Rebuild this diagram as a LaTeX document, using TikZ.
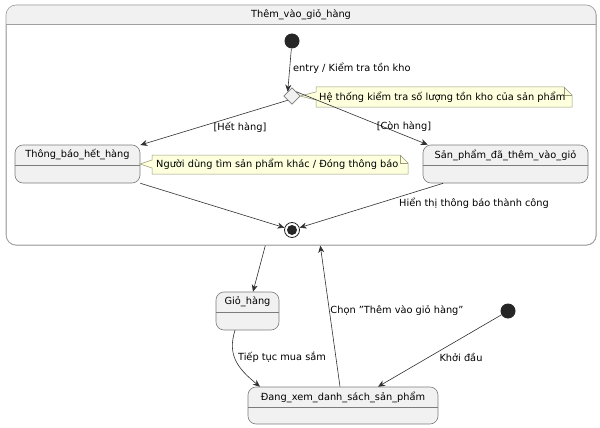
\documentclass[tikz,border=0pt]{standalone}
\usepackage{fontspec}
\setmainfont{DejaVu Sans}
\usetikzlibrary{arrows.meta,calc}
\definecolor{stfill}{HTML}{F1F1F1}
\definecolor{stborder}{HTML}{7C7C7C}
\definecolor{compborder}{HTML}{A0A0A0}
\definecolor{notefill}{HTML}{FEFFDD}
\definecolor{noteborder}{HTML}{9A9A7A}
\definecolor{edgecol}{HTML}{303030}
\begin{document}
\begin{tikzpicture}[x=1pt,y=-1pt,
  font=\fontsize{9.8}{11}\selectfont,
  stbox/.style={draw=stborder, fill=stfill, rounded corners=8pt, line width=0.6pt, inner sep=0pt},
  divline/.style={draw=stborder, line width=0.6pt},
  ttl/.style={inner sep=1pt},
  lbl/.style={inner sep=1pt},
  edge/.style={draw=edgecol, line width=0.6pt, -{Stealth[length=7pt,width=6pt,inset=2.2pt]}},
  dot/.style={circle, fill=black!85, minimum size=15pt, inner sep=0pt},
  notebox/.style={draw=noteborder, fill=notefill, line width=0.5pt, line join=miter}
]
\useasboundingbox (0,0) rectangle (600,428);

% composite state
\node[stbox, draw=compborder, fill=white, rounded corners=10pt, minimum width=590pt, minimum height=240pt, anchor=north west] (comp) at (6,5) {};
\begin{scope}
  \clip[rounded corners=10pt] (6,5) rectangle (596,245);
  \fill[stfill] (6,5) rectangle (596,24);
\end{scope}
\draw[compborder, line width=0.6pt, rounded corners=10pt] (6,5) rectangle (596,245);
\draw[compborder, line width=0.6pt] (6,24) -- (596,24);
\node[ttl] (comptitle) at (301,15) {Thêm\_vào\_giỏ\_hàng};

% initial state inside
\node[dot] (init1) at (292,41) {};
% choice diamond
\node[draw=stborder, fill=stfill, line width=0.6pt, shape=rectangle, rotate=45, minimum size=11.5pt, inner sep=0pt] (dia) at (292,96) {};

% states
\node[stbox, minimum width=125pt, minimum height=38pt] (tb) at (77.5,164) {};
\draw[divline] (tb.west |- 0,165) -- (tb.east |- 0,165);
\node[ttl] (tbtitle) at (77.5,155) {Thông\_báo\_hết\_hàng};

\node[stbox, minimum width=165pt, minimum height=38pt] (sp) at (505.5,164) {};
\draw[divline] (sp.west |- 0,165) -- (sp.east |- 0,165);
\node[ttl] (sptitle) at (505.5,155) {Sản\_phẩm\_đã\_thêm\_vào\_giỏ};

% final state
\node[circle, draw=black!85, line width=0.8pt, minimum size=15pt, inner sep=0pt] (fin) at (292,230) {};
\fill[black!85] (fin.center) circle (5);

% notes
\coordinate (n1tip) at (300,96);
\draw[notebox] (316,87) -- (564,87) -- (572,95) -- (572,107) -- (316,107) -- (316,100) -- (n1tip) -- (316,92) -- cycle;
\draw[noteborder, line width=0.5pt] (564,87) -- (564,95) -- (572,95);
\node[lbl, anchor=west] (note1) at (318,97) {Hệ thống kiểm tra số lượng tồn kho của sản phẩm};

\coordinate (n2tip) at (140,164);
\draw[notebox] (152,155) -- (400,155) -- (408,163) -- (408,174) -- (152,174) -- (152,168) -- (n2tip) -- (152,160) -- cycle;
\draw[noteborder, line width=0.5pt] (400,155) -- (400,163) -- (408,163);
\node[lbl, anchor=west] (note2) at (155,164.5) {Người dùng tìm sản phẩm khác / Đóng thông báo};

% outer states
\node[stbox, minimum width=63pt, minimum height=38pt] (gio) at (247.5,311) {};
\draw[divline] (gio.west |- 0,312) -- (gio.east |- 0,312);
\node[ttl] (giotitle) at (247.5,302) {Giỏ\_hàng};

\node[stbox, minimum width=190pt, minimum height=37pt] (dang) at (343,405.5) {};
\draw[divline] (dang.west |- 0,407) -- (dang.east |- 0,407);
\node[ttl] (dangtitle) at (343,397) {Đang\_xem\_danh\_sách\_sản\_phẩm};

\node[dot] (init2) at (508,311) {};

% edges
\draw[edge] (init1) -- (dia.north);
\node[lbl, anchor=west] (l1) at (292,68) {entry / Kiểm tra tồn kho};
\draw[edge] (dia.west) -- (tb);
\node[lbl] (l2) at (240,127) {[Hết hàng]};
\draw[edge] (dia.east) -- ([xshift=5pt]sp.north west);
\node[lbl] (l3) at (404,127) {[Còn hàng]};
\draw[edge] (tb) -- (fin);
\draw[edge] (sp) -- (fin);
\node[lbl, anchor=west] (l4) at (398,203) {Hiển thị thông báo thành công};

\draw[edge] ([xshift=-36pt]comp.south) -- ([xshift=5.5pt]gio.north);
\draw[edge] ([xshift=-3pt]dang.north) -- ([xshift=19pt]comp.south);
\node[lbl] (l5) at (397,311) {Chọn \char34 Thêm vào giỏ hàng\char34};
\draw[edge] ([xshift=-12.5pt]gio.south) .. controls +(-8,25) and +(-22,-18) .. ([xshift=-83pt]dang.north);
\node[lbl] (l6) at (282,357) {Tiếp tục mua sắm};
\draw[edge] (init2) -- ([xshift=35pt]dang.north);
\node[lbl] (l7) at (461,357) {Khởi đầu};
\end{tikzpicture}
\end{document}
